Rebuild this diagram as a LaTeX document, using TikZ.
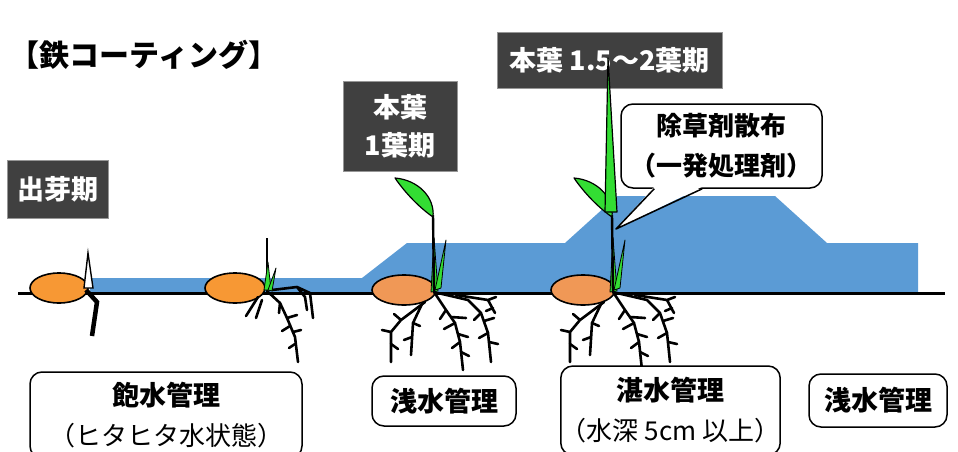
\documentclass[tikz,border=0pt]{standalone}
\usepackage{fontspec}
\setmainfont{Noto Sans CJK JP}
\usetikzlibrary{calc}

\definecolor{stagegray}{RGB}{64,64,64}
\definecolor{stageedge}{RGB}{150,150,150}
\definecolor{paddywater}{RGB}{91,155,213}
\definecolor{seedorange}{RGB}{247,152,52}
\definecolor{seedpale}{RGB}{240,152,86}
\definecolor{leafgreen}{RGB}{51,221,51}

\tikzset{
	stage/.style={draw=stageedge, line width=1pt, fill=stagegray, text=white, align=center, inner sep=0pt,
		font=\bfseries\fontsize{27}{38}\selectfont},
	manage/.style={draw, line width=1.5pt, rounded corners=12pt, fill=white, align=center, inner sep=0pt,
		font=\bfseries\fontsize{27}{40}\selectfont},
	seedcoat/.style={draw, line width=1.6pt, fill=seedorange},
	root/.style={line width=2.6pt, line cap=round, line join=round},
	blade/.style={draw, line width=0.8pt, fill=leafgreen, line join=round},
	rootclump/.pic={
		\draw[root] (-9,10) -- (-33,28) -- (-43,40) -- (-43,70);
		\draw[root] (-33,28) -- (-40,22) (-43,40) -- (-52,38) (-43,52) -- (-36,57);
		\draw[root] (-12,12) -- (-21,31) -- (-23,63);
		\draw[root] (-21,31) -- (-14,34) (-22,45) -- (-30,48);
		\draw[root] (0,0) -- (12,18) -- (21,31) -- (26,50) -- (29,78);
		\draw[root] (12,18) -- (6,27) (17,25) -- (32,26) (21,31) -- (10,37) (24,42) -- (34,45) (26,50) -- (18,56) (27,60) -- (35,64);
		\draw[root] (4,1) -- (34,8) -- (47,21) -- (54,41) -- (57,70);
		\draw[root] (47,21) -- (40,28) (50,29) -- (60,26) (54,41) -- (45,46) (55,50) -- (64,52);
		\draw[root] (22,3) -- (54,8) -- (61,21) (54,8) -- (62,5) (59,16) -- (52,19);
	},
	seedling/.pic={
		\path[blade] (-3,0) -- (0,-54) -- (4,-1) -- cycle;
		\path[blade] (1,-2) -- (12,-52) -- (7,-4) -- cycle;
		\draw[line width=2.4pt] (0,0) -- (-1,-77);
		\path[blade, line width=1.2pt] (-1,-75) .. controls (1,-95) and (-16,-112) .. (-39,-114)
			.. controls (-28,-98) and (-14,-84) .. cycle;
		\pic at (0,0) {rootclump};
	}
}

\begin{document}
\begin{tikzpicture}[x=1pt, y=-1pt]
	\useasboundingbox (0, 0) rectangle (958, 452);
	\clip (0, 0) rectangle (958, 452);

	\node[font=\bfseries\fontsize{30}{34}\selectfont] at (144, 55) (title) {【鉄コーティング】};

	\fill[paddywater] (90, 278) -- (362, 278) -- (407, 243) -- (565, 243) -- (617, 196) -- (775, 196)
		-- (827, 243) -- (918, 243) -- (918, 293) -- (90, 293) -- cycle;
	\draw[line width=3pt] (18, 293) -- (945, 293);

	\filldraw[seedcoat] (59, 288) ellipse [x radius=29, y radius=15];
	\draw[line width=4.5pt] (86, 290) -- (97, 302) -- (92, 336);
	\filldraw[fill=white, line width=1.4pt] (84, 288) -- (88, 253) -- (93, 288) -- cycle;

	\filldraw[seedcoat] (235, 288) ellipse [x radius=30, y radius=15];
	\draw[root] (262, 300) -- (256, 318) (258, 297) -- (246, 316);
	\draw[root] (267, 291) -- (280, 303) -- (287, 318) -- (295, 337) -- (298, 362);
	\draw[root] (280, 303) -- (279, 313) (287, 318) -- (297, 315) (290, 326) -- (282, 331)
		(293, 332) -- (301, 330) (295, 344) -- (289, 348);
	\draw[root] (272, 290) -- (297, 287) -- (310, 293) -- (313, 318) (297, 287) -- (305, 297) -- (307, 310);
	\draw[line width=2pt] (267, 238) -- (267, 285);
	\path[blade] (264, 290) -- (268, 262) -- (271, 290) -- cycle;
	\path[blade] (268, 290) -- (276, 268) -- (272, 291) -- cycle;

	\filldraw[seedcoat, fill=seedpale] (404, 290) ellipse [x radius=32, y radius=15];
	\filldraw[seedcoat, fill=seedpale] (583, 290) ellipse [x radius=32, y radius=15];

	\node[stage, minimum width=101pt, minimum height=58pt] at (57.5, 189) (emerge) {出芽期};
	\node[stage, minimum width=114pt, minimum height=90pt] at (400, 126) (oneleaf) {本葉\\1葉期};
	\node[stage, minimum width=225pt, minimum height=55pt] at (609.5, 60.5) (twoleaf) {本葉 1.5〜2葉期};

	\pic at (434, 292) {seedling};
	\pic at (613, 292) {seedling};
	\path[blade, line width=1.2pt] (608, 58) -- (617, 212) -- (605, 212) -- cycle;

	\node[manage, minimum width=201pt, minimum height=84pt, font=\bfseries\fontsize{26}{40}\selectfont]
		at (721.5, 146) (spray) {除草剤散布\\（一発処理剤）};
	\coordinate (spraytip) at (616, 229);
	\fill[white] ($(spray.south west)+(34,-2)$) -- (spraytip) -- ($(spray.south west)+(82,-2)$) -- cycle;
	\draw[line width=1.5pt, line join=round] ($(spray.south west)+(34,0)$) -- (spraytip) -- ($(spray.south west)+(82,0)$);

	\node[manage, minimum width=272pt, minimum height=86pt] at (166, 415) (saturate)
		{飽水管理\\\mdseries\fontsize{26}{40}\selectfont（ヒタヒタ水状態）};
	\node[manage, minimum width=144pt, minimum height=50pt] at (444, 401) (shallow)	{浅水管理};
	\node[manage, minimum width=215pt, minimum height=89pt] at (670.5, 410.5) (deep)
		{湛水管理\\\mdseries\fontsize{26}{40}\selectfont（水深 5cm 以上）};
	\node[manage, minimum width=138pt, minimum height=53pt] at (878, 400.5) (shallowlate)	{浅水管理};
\end{tikzpicture}
\end{document}
